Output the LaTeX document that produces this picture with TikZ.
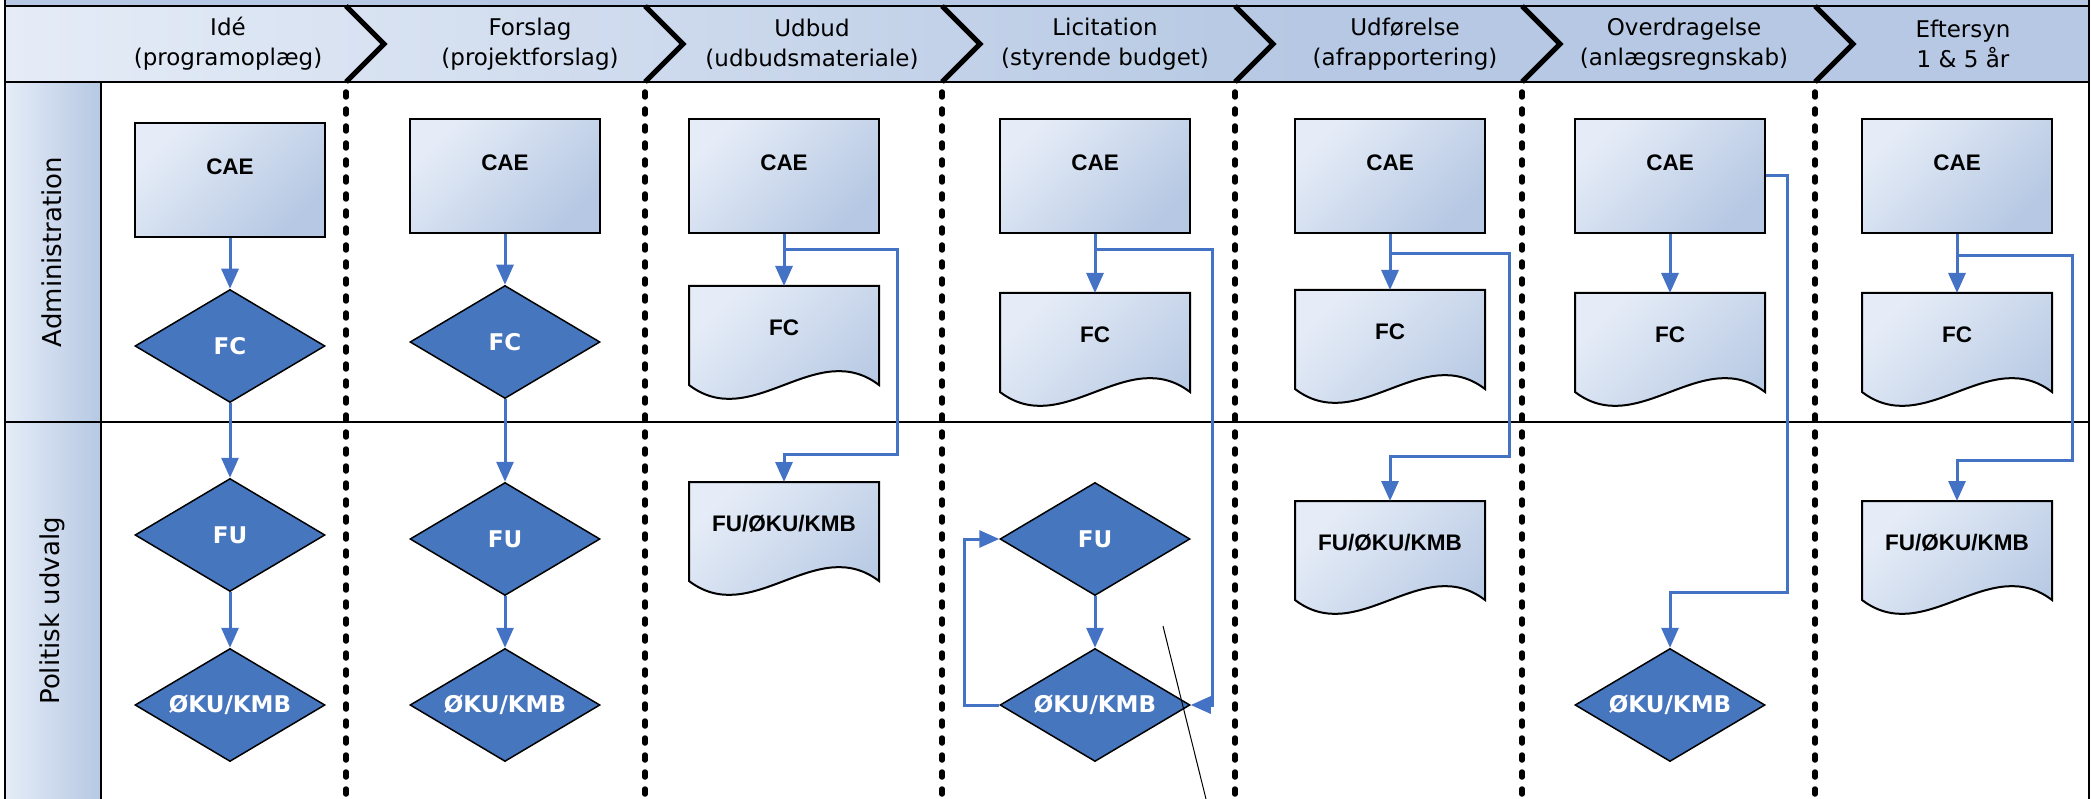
\documentclass[tikz,border=0pt]{standalone}
\usepackage{fontspec}
\setmainfont{DejaVu Sans}
\newfontfamily\arialfont{Liberation Sans}
\usetikzlibrary{shapes.geometric,arrows.meta}

\definecolor{lanelight}{RGB}{229,236,247}
\definecolor{lanedark}{RGB}{182,200,227}
\definecolor{flowblue}{RGB}{70,118,190}
\definecolor{linkblue}{RGB}{68,114,196}

% document outline: #1 = centre x, #2 = top y
\newcommand\docshape[2]{%
    \draw[docbody] (#1-95,#2) -- (#1+95,#2) -- (#1+95,#2+99)
        .. controls (#1+32,#2+51) and (#1-32,#2+147) .. (#1-95,#2+99) -- cycle;}

\begin{document}
\begin{tikzpicture}[x=1pt, y=-1pt,
    every node/.style={inner sep=0pt},
    head/.style={align=center, font=\fontsize{23}{30}\selectfont},
    lanetext/.style={rotate=90, font=\fontsize{26}{30}\selectfont},
    cae/.style={rectangle, draw=black, line width=2pt, minimum width=190pt, minimum height=114pt,
        top color=lanelight, bottom color=lanedark, shading angle=45,
        font=\arialfont\bfseries\fontsize{22.5}{24}\selectfont, text height=16pt, text depth=27pt},
    docbody/.style={draw=black, line width=2pt, top color=lanelight, bottom color=lanedark, shading angle=45},
    doc/.style={rectangle, anchor=north, minimum width=190pt, minimum height=99pt,
        font=\arialfont\bfseries\fontsize{22.5}{24}\selectfont, text height=16pt, text depth=17pt},
    vote/.style={diamond, aspect=2, draw=black, line width=1.5pt, fill=flowblue, text=white,
        minimum width=190pt, minimum height=113pt, font=\bfseries\fontsize{23}{26}\selectfont},
    link/.style={draw=linkblue, line width=3pt, -{Triangle[length=20pt,width=17pt]}},
    lane/.style={draw=black, line width=2pt},
    sep/.style={line width=5.5pt, dash pattern=on 5pt off 12pt, line cap=round},
    chev/.style={line width=5pt}]

    \useasboundingbox (0,0) rectangle (2091,799);

    % Header band and lane labels
    \fill[lanedark] (5,0) rectangle (2089,82);
    \shade[left color=lanelight, right color=lanedark] (5,6) rectangle (1300,82);
    \shade[left color=lanelight, right color=lanedark] (5,82) rectangle (101,422);
    \shade[left color=lanelight, right color=lanedark] (5,422) rectangle (101,799);
    \draw[lane] (5,6) -- (2089,6);
    \draw[lane] (5,82) -- (2089,82);
    \draw[lane] (5,422) -- (2089,422);
    \draw[lane] (101,82) -- (101,799);
    \draw[lane] (5,0) -- (5,799);
    \draw[lane] (2089,0) -- (2089,799);

    % Phase chevrons and separators
    \foreach \x in {346,645,942,1235,1522,1815} {
        \draw[chev] (\x,6) -- (\x+38,44) -- (\x,82);
        \draw[sep] (\x,92) -- (\x,799);
    }

    \foreach \x/\i/\txt in {228/1/{Idé\\(programoplæg)}, 530/2/{Forslag\\(projektforslag)},
        812/3/{Udbud\\(udbudsmateriale)}, 1105/4/{Licitation\\(styrende budget)},
        1405/5/{Udførelse\\(afrapportering)}, 1684/6/{Overdragelse\\(anlægsregnskab)},
        1963/7/{Eftersyn\\1 \& 5 år}}
        \node[head] (h\i) at (\x,44) {\txt};

    \node[lanetext] (adm) at (52,252) {Administration};
    \node[lanetext] (pol) at (52,611) {Politisk udvalg};

    % Idé
    \node[cae] (cae1) at (230,180) {CAE};
    \node[vote] (fc1) at (230,346) {FC};
    \node[vote] (fu1) at (230,535) {FU};
    \node[vote] (oku1) at (230,705) {ØKU/KMB};
    \draw[link] (cae1.south) -- (fc1.north);
    \draw[link] (fc1.south) -- (fu1.north);
    \draw[link] (fu1.south) -- (oku1.north);

    % Forslag
    \node[cae] (cae2) at (505,176) {CAE};
    \node[vote] (fc2) at (505,342) {FC};
    \node[vote] (fu2) at (505,539) {FU};
    \node[vote] (oku2) at (505,705) {ØKU/KMB};
    \draw[link] (cae2.south) -- (fc2.north);
    \draw[link] (fc2.south) -- (fu2.north);
    \draw[link] (fu2.south) -- (oku2.north);

    % Udbud
    \node[cae] (cae3) at (784,176) {CAE};
    \docshape{784}{286}
    \node[doc] (fc3) at (784,286) {FC};
    \docshape{784}{482}
    \node[doc] (pol3) at (784,482) {FU/ØKU/KMB};
    \draw[link] (cae3.south) -- (fc3.north);
    \draw[link] (cae3.south) ++(0,16) -- ++(113,0) -- ++(0,204) -| (pol3.north);

    % Licitation
    \node[cae] (cae4) at (1095,176) {CAE};
    \docshape{1095}{293}
    \node[doc] (fc4) at (1095,293) {FC};
    \node[vote] (fu4) at (1095,539) {FU};
    \node[vote] (oku4) at (1095,705) {ØKU/KMB};
    \draw[link] (cae4.south) -- (fc4.north);
    \draw[link] (cae4.south) ++(0,16) -- ++(117,0) |- (oku4.east);
    \draw[link] (fu4.south) -- (oku4.north);
    \draw[link] (oku4.west) -- ++(-35,0) |- (fu4.west);
    \draw[line width=1pt] (1163,626) -- (1206,799);

    % Udførelse
    \node[cae] (cae5) at (1390,176) {CAE};
    \docshape{1390}{290}
    \node[doc] (fc5) at (1390,290) {FC};
    \docshape{1390}{501}
    \node[doc] (pol5) at (1390,501) {FU/ØKU/KMB};
    \draw[link] (cae5.south) -- (fc5.north);
    \draw[link] (cae5.south) ++(0,20) -- ++(119,0) -- ++(0,202) -| (pol5.north);

    % Overdragelse
    \node[cae] (cae6) at (1670,176) {CAE};
    \docshape{1670}{293}
    \node[doc] (fc6) at (1670,293) {FC};
    \node[vote] (oku6) at (1670,705) {ØKU/KMB};
    \draw[link] (cae6.south) -- (fc6.north);
    \draw[link] (cae6.east) -- ++(21,0) -- ++(0,416) -| (oku6.north);

    % Eftersyn
    \node[cae] (cae7) at (1957,176) {CAE};
    \docshape{1957}{293}
    \node[doc] (fc7) at (1957,293) {FC};
    \docshape{1957}{501}
    \node[doc] (pol7) at (1957,501) {FU/ØKU/KMB};
    \draw[link] (cae7.south) -- (fc7.north);
    \draw[link] (cae7.south) ++(0,22) -- ++(115,0) -- ++(0,204) -| (pol7.north);
\end{tikzpicture}
\end{document}
